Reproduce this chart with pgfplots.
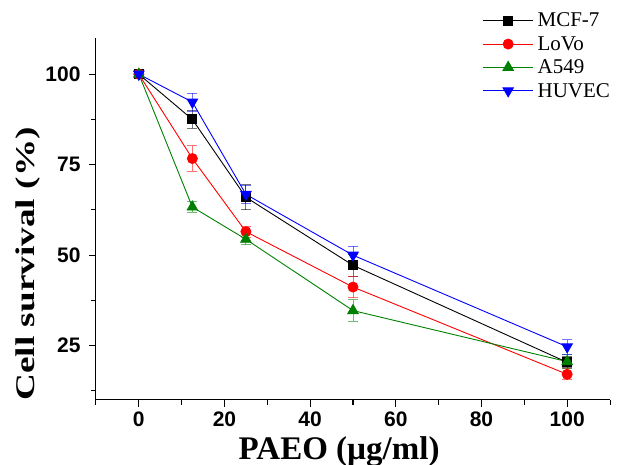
\documentclass[border=0pt]{standalone}
\usepackage{pgfplots}
\pgfplotsset{compat=1.18}
\usepackage{fontspec}
\setmainfont{Liberation Serif}
\newfontfamily\arial{Liberation Sans}
\definecolor{dgreen}{RGB}{0,128,0}
\begin{document}
\begin{tikzpicture}
\begin{axis}[
  scale only axis, width=514pt, height=362pt,
  xmin=-10, xmax=110, ymin=10, ymax=110,
  axis x line*=bottom, axis y line*=left,
  axis line style={line width=1pt},
  xtick={0,20,40,60,80,100}, minor xtick={-10,10,30,50,70,90,110},
  ytick={25,50,75,100}, minor ytick={12.5,37.5,62.5,87.5},
  tick align=outside, tick style={line width=1pt, black},
  major tick length=7pt, minor tick length=5pt,
  /pgf/number format/assume math mode=true,
  ticklabel style={font=\arial\bfseries\fontsize{21}{24}\selectfont},
  xticklabel style={yshift=-1pt},
  yticklabel style={xshift=-5pt},
  xlabel={\bfseries\fontsize{33}{38}\selectfont PAEO (µg/ml)},
  ylabel={\scalebox{1.38}[1]{\bfseries\fontsize{27}{32}\selectfont Cell survival (\%)}},
  xlabel style={at={(rel axis cs:0.473,-0.142)}, anchor=center},
  ylabel style={at={(rel axis cs:-0.132,0.376)}, anchor=center, rotate=0},
  legend style={at={(rel axis cs:0.752,1.075)}, anchor=north west, draw=none, fill=none,
    font=\fontsize{21}{24}\selectfont, row sep=4pt, inner sep=0pt,
    nodes={inner xsep=4pt}},
  legend cell align=left,
  legend image code/.code={\draw[mark repeat=2,mark phase=2] plot coordinates {(0pt,0pt)(25pt,0pt)(50pt,0pt)};},
  every axis plot/.append style={line width=0.9pt},
  error bars/error bar style={line width=0.9pt, opacity=0.55},
  error bars/error mark options={rotate=90, mark size=5pt, line width=0.9pt, opacity=0.55},
]
\coordinate (sw) at (rel axis cs:0,0);
\coordinate (ne) at (rel axis cs:1,1);
\addplot[black, mark=square*, mark size=4.5pt, mark options={solid},
  error bars/.cd, y dir=both, y explicit] coordinates {
  (0,100) +- (0,1)
  (12.5,87.5) +- (0,2.5)
  (25,66) +- (0,3.5)
  (50,47.2) +- (0,3)
  (100,20.4) +- (0,1.5)
};
\addlegendentry{MCF-7}
\addplot[red, mark=*, mark size=5pt, mark options={solid},
  error bars/.cd, y dir=both, y explicit] coordinates {
  (0,100) +- (0,1)
  (12.5,76.7) +- (0,3.5)
  (25,56.5) +- (0,1.5)
  (50,41.2) +- (0,3)
  (100,17.1) +- (0,1.5)
};
\addlegendentry{LoVo}
\addplot[dgreen, mark=triangle*, mark size=6pt, mark options={solid},
  error bars/.cd, y dir=both, y explicit] coordinates {
  (0,100) +- (0,1)
  (12.5,63.3) +- (0,1.5)
  (25,54.4) +- (0,1.5)
  (50,34.7) +- (0,3)
  (100,20.6) +- (0,2)
};
\addlegendentry{A549}
\addplot[blue, mark=triangle*, mark size=6pt, mark options={solid, rotate=180},
  error bars/.cd, y dir=both, y explicit] coordinates {
  (0,100) +- (0,1)
  (12.5,92.3) +- (0,2.5)
  (25,66.8) +- (0,2.5)
  (50,50) +- (0,2.5)
  (100,24.7) +- (0,2)
};
\addlegendentry{HUVEC}
\end{axis}
\pgfresetboundingbox
\path ([shift={(-96pt,-65pt)}]sw) rectangle ([shift={(9pt,38pt)}]ne);
\end{tikzpicture}
\end{document}
